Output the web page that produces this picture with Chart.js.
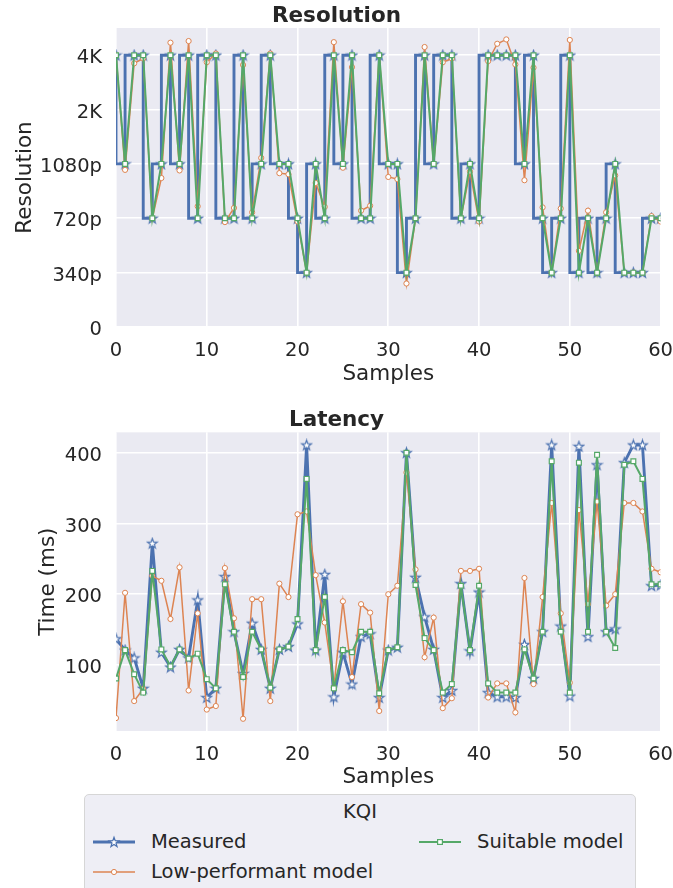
<!DOCTYPE html>
<html><head><meta charset="utf-8">
<script src="https://cdn.jsdelivr.net/npm/chart.js@4.4.0/dist/chart.umd.min.js"></script>
<style>
html,body{margin:0;padding:0;background:#fff;width:673px;height:888px;overflow:hidden;font-family:"DejaVu Sans",sans-serif;color:#262626;}
#c1{position:absolute;left:0;top:0;}
#c2{position:absolute;left:0;top:395px;}
#legend{position:absolute;left:84px;top:794px;width:552px;height:120px;background:#EEEEF5;border:1px solid #D6D6D6;border-radius:5px;box-sizing:border-box;font-size:19.5px;}
#legend .t{position:absolute;left:0;width:100%;text-align:center;top:5px;line-height:24px;}
#legend .it{position:absolute;line-height:24px;white-space:nowrap;}
#legend svg{position:absolute;}
</style></head>
<body>
<canvas id="c1" width="673" height="392"></canvas>
<canvas id="c2" width="673" height="397"></canvas>
<div id="legend"></div>
<script>
// ---------- data ----------
const samples = [0,1,2,3,4,5,6,7,8,9,10,11,12,13,14,15,16,17,18,19,20,21,22,23,24,25,26,27,28,29,30,31,32,33,34,35,36,37,38,39,40,41,42,43,44,45,46,47,48,49,50,51,52,53,54,55,56,57,58,59,60];
const xTickValues = [0,10,20,30,40,50,60];
const resTickValues = [0,1,2,3,4,5];
const resTickLabels = ['0','340p','720p','1080p','2K','4K'];
const latTickValues = [100,200,300,400];
const seriesNames = ['Measured','Low-performant model','Suitable model'];

const resMeasured = [5,3,5,5,2,3,5,3,5,2,5,5,2,2,5,2,3,5,3,3,2,1,3,2,5,3,5,2,2,5,3,3,1,2,5,3,5,5,2,3,2,5,5,5,5,3,5,2,1,2,5,1,2,1,2,3,1,1,1,2,2];
const resLowPerf = [5.0,2.89,4.85,4.94,2.0,2.74,5.23,2.88,5.26,2.22,4.87,5.03,1.93,2.19,4.82,2.11,3.11,5.03,2.83,2.81,1.94,1.0,2.65,2.21,5.24,2.93,4.78,2.14,2.23,5.0,2.76,2.72,0.80,2.0,5.15,3.0,4.87,4.94,2.0,2.86,1.94,4.89,5.21,5.29,4.83,2.70,4.77,2.20,1.0,2.18,5.28,1.40,2.14,1.0,2.11,2.79,1.0,1.0,1.0,2.04,1.94];
const resSuitable = [5,3,5,5,2,3,5,3,5,2,5,5,2,2,5,2,3,5,3,3,2,1,3,2,5,3,5,2,2,5,3,3,1,2,5,3,5,5,2,3,2,5,5,5,5,3,5,2,1,2,5,1,2,1,2,3,1,1,1,2,2];

const latMeasured = [137,121,110,67,272,118,97,122,110,192,54,67,225,147,88,159,122,67,122,126,158,411,121,228,55,118,73,140,144,54,121,125,400,224,168,122,54,64,215,120,203,61,55,55,54,129,81,147,411,155,56,409,140,383,147,151,386,411,411,212,213];
const latLowPerf = [25,202,49,66,226,219,165,238,64,173,37,42,237,166,24,193,193,49,215,196,313,317,227,160,68,190,83,186,174,35,200,212,372,235,111,167,39,53,233,233,236,54,74,74,33,223,73,196,329,173,75,319,186,331,184,200,329,329,317,236,231];
const latSuitable = [81,121,87,61,233,122,98,122,109,116,80,67,214,147,83,147,122,68,122,126,165,363,121,196,67,121,118,147,147,60,121,125,400,213,138,121,61,73,212,121,212,74,61,61,61,122,81,147,388,147,61,386,147,397,147,124,383,388,363,214,214];

// ---------- styles ----------
const C_BLUE = '#4C72B0', C_ORANGE = '#DD8452', C_GREEN = '#55A868', TXT = '#262626';
const FONT = '"DejaVu Sans", sans-serif';
Chart.defaults.font.family = FONT;
Chart.defaults.color = TXT;

function starPath(ctx, cx, cy, R, r) {
  ctx.beginPath();
  for (let k = 0; k < 10; k++) {
    const rad = k % 2 === 0 ? R : r;
    const a = -Math.PI / 2 + k * Math.PI / 5;
    const px = cx + rad * Math.cos(a), py = cy + rad * Math.sin(a);
    if (k === 0) ctx.moveTo(px, py); else ctx.lineTo(px, py);
  }
  ctx.closePath();
}
const starImg = document.createElement('canvas');
starImg.width = 13; starImg.height = 13;
(function(){
  const g = starImg.getContext('2d');
  starPath(g, 6.5, 6.9, 5.2, 2.1);
  g.fillStyle = '#ffffff'; g.fill();
  g.lineWidth = 1.2; g.strokeStyle = C_BLUE; g.lineJoin = 'miter'; g.stroke();
})();

const bgPlugin = {
  id: 'bgArea',
  beforeDraw(chart) {
    const {ctx, chartArea: a} = chart;
    ctx.save(); ctx.fillStyle = '#EAEAF2';
    ctx.fillRect(a.left, a.top, a.right - a.left, a.bottom - a.top);
    ctx.restore();
  }
};

function pts(vals) { return samples.map((s, i) => ({x: s, y: vals[i]})); }

function datasets(meas, low, suit, stepped) {
  return [
    {label: seriesNames[2], data: pts(suit), borderColor: C_GREEN, borderWidth: 2, pointStyle: 'rect',
     pointRadius: 3.4, pointBorderWidth: 1.2, pointBackgroundColor: '#ffffff', pointBorderColor: C_GREEN, order: 1, clip: 0},
    {label: seriesNames[1], data: pts(low), borderColor: C_ORANGE, borderWidth: 1.5, pointStyle: 'circle',
     pointRadius: 2.6, pointBorderWidth: 1, pointBackgroundColor: '#ffffff', pointBorderColor: C_ORANGE, order: 2, clip: 0},
    {label: seriesNames[0], data: pts(meas), borderColor: C_BLUE, borderWidth: 2.9, pointStyle: starImg,
     pointRadius: 5, stepped: stepped ? 'after' : false, order: 3, clip: 0}
  ];
}

function makeChart(canvas, cfg) {
  return new Chart(canvas, {
    type: 'line',
    data: {datasets: datasets(cfg.meas, cfg.low, cfg.suit, cfg.stepped)},
    plugins: [bgPlugin],
    options: {
      responsive: false, animation: false, devicePixelRatio: 1,
      layout: {padding: {left: 0, right: 0, top: 0, bottom: 0}},
      elements: {line: {tension: 0, fill: false}},
      plugins: {
        legend: {display: false}, tooltip: {enabled: false},
        title: {display: true, text: cfg.title, color: TXT,
                font: {size: 21.5, weight: 'bold', lineHeight: 1, family: FONT},
                padding: {top: cfg.titlePadTop, bottom: 1}}
      },
      scales: {
        x: {
          type: 'linear', min: 0, max: 60,
          afterBuildTicks: ax => { ax.ticks = xTickValues.map(v => ({value: v})); },
          afterFit: sc => { sc.height = cfg.xHeight; },
          grid: {color: '#ffffff', lineWidth: 1.6, drawTicks: false},
          border: {display: false},
          ticks: {font: {size: 19.5, lineHeight: 2.41}, padding: 0, color: TXT, maxRotation: 0},
          title: {display: true, text: 'Samples', font: {size: 21.5}, color: TXT, padding: {top: 0, bottom: cfg.xTitlePad}}
        },
        y: {
          type: 'linear', min: cfg.ymin, max: cfg.ymax,
          afterBuildTicks: ax => { ax.ticks = cfg.yTicks.map(v => ({value: v})); },
          afterFit: sc => { sc.width = 116; },
          grid: {color: '#ffffff', lineWidth: 1.6, drawTicks: false},
          border: {display: false},
          ticks: {font: {size: 19.5}, padding: 14, labelOffset: 3, color: TXT, callback: cfg.yCallback},
          title: {display: true, text: cfg.yTitle, font: {size: 21.5}, color: TXT, padding: {top: cfg.yTitlePad, bottom: 0}}
        }
      }
    }
  });
}

makeChart(document.getElementById('c1'), {
  meas: resMeasured, low: resLowPerf, suit: resSuitable, stepped: true,
  title: 'Resolution', titlePadTop: 5.5, xHeight: 65, xTitlePad: 4.5,
  ymin: 0, ymax: 5.5, yTicks: resTickValues,
  yCallback: v => { const i = resTickValues.indexOf(v); return i >= 0 ? resTickLabels[i] : ''; },
  yTitle: 'Resolution', yTitlePad: 12.4
});
makeChart(document.getElementById('c2'), {
  meas: latMeasured, low: latLowPerf, suit: latSuitable, stepped: false,
  title: 'Latency', titlePadTop: 14.85, xHeight: 61, xTitlePad: 1.5,
  ymin: 6.7, ymax: 428.8, yTicks: latTickValues,
  yCallback: v => String(v),
  yTitle: 'Time (ms)', yTitlePad: 35.7
});

// ---------- legend (HTML) ----------
(function(){
  const lg = document.getElementById('legend');
  const t = document.createElement('div'); t.className = 't'; t.textContent = 'KQI'; lg.appendChild(t);
  const entries = [
    {name: seriesNames[0], color: C_BLUE, lw: 2.9, mk: 'star', x: 8, y: 47},
    {name: seriesNames[1], color: C_ORANGE, lw: 1.5, mk: 'circle', x: 8, y: 77},
    {name: seriesNames[2], color: C_GREEN, lw: 2, mk: 'rect', x: 334, y: 47}
  ];
  entries.forEach(e => {
    const ns = 'http://www.w3.org/2000/svg';
    const svg = document.createElementNS(ns, 'svg');
    svg.setAttribute('width', '44'); svg.setAttribute('height', '16');
    svg.style.left = e.x + 'px'; svg.style.top = (e.y - 8) + 'px';
    const ln = document.createElementNS(ns, 'line');
    ln.setAttribute('x1', 0); ln.setAttribute('x2', 42); ln.setAttribute('y1', 8); ln.setAttribute('y2', 8);
    ln.setAttribute('stroke', e.color); ln.setAttribute('stroke-width', e.lw);
    svg.appendChild(ln);
    let m;
    if (e.mk === 'star') {
      m = document.createElementNS(ns, 'polygon');
      const p = [];
      for (let k = 0; k < 10; k++) {
        const rad = k % 2 === 0 ? 5.2 : 2.1, a = -Math.PI / 2 + k * Math.PI / 5;
        p.push((21 + rad * Math.cos(a)).toFixed(2) + ',' + (8.4 + rad * Math.sin(a)).toFixed(2));
      }
      m.setAttribute('points', p.join(' ')); m.setAttribute('stroke-width', 1.2);
    } else if (e.mk === 'circle') {
      m = document.createElementNS(ns, 'circle');
      m.setAttribute('cx', 21); m.setAttribute('cy', 8); m.setAttribute('r', 2.6); m.setAttribute('stroke-width', 1);
    } else {
      m = document.createElementNS(ns, 'rect');
      m.setAttribute('x', 18.6); m.setAttribute('y', 5.6); m.setAttribute('width', 4.8); m.setAttribute('height', 4.8); m.setAttribute('stroke-width', 1.2);
    }
    m.setAttribute('fill', '#ffffff'); m.setAttribute('stroke', e.color);
    svg.appendChild(m);
    lg.appendChild(svg);
    const d = document.createElement('div'); d.className = 'it';
    d.textContent = e.name; d.style.left = (e.x + 58) + 'px'; d.style.top = (e.y - 12) + 'px';
    lg.appendChild(d);
  });
})();
</script>
</body></html>
